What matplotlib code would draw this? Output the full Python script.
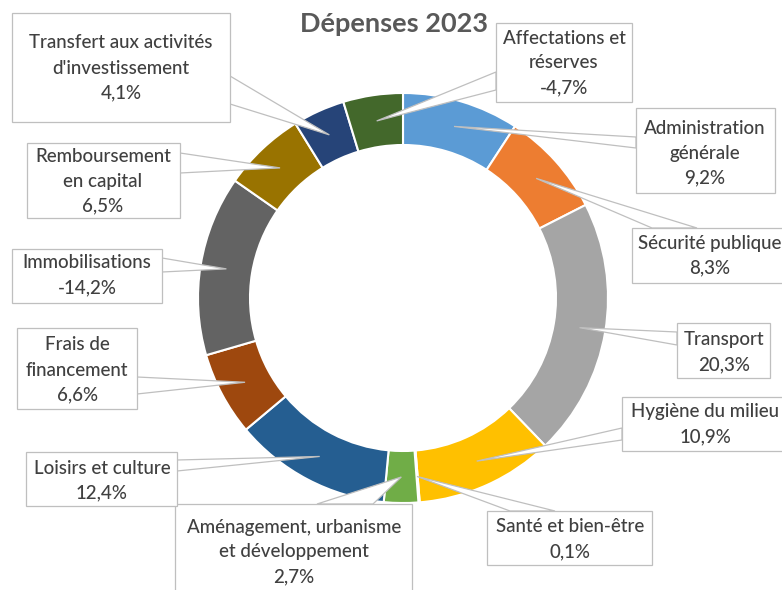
import numpy as np
import matplotlib
matplotlib.use("Agg")
import matplotlib.pyplot as plt
from matplotlib.patches import Rectangle, Polygon

plt.rcParams['font.family'] = ['Lato', 'DejaVu Sans']

# data, clockwise from 12 o'clock
categories = ["Administration générale", "Sécurité publique", "Transport",
              "Hygiène du milieu", "Santé et bien-être",
              "Aménagement, urbanisme et développement", "Loisirs et culture",
              "Frais de financement", "Immobilisations", "Remboursement en capital",
              "Transfert aux activités d'investissement", "Affectations et réserves"]
values = [9.2, 8.3, 20.3, 10.9, 0.1, 2.7, 12.4, 6.6, -14.2, 6.5, 4.1, -4.7]
name_lines = [["Administration", "générale"], ["Sécurité publique"], ["Transport"],
              ["Hygiène du milieu"], ["Santé et bien-être"],
              ["Aménagement, urbanisme", "et développement"], ["Loisirs et culture"],
              ["Frais de", "financement"], ["Immobilisations"], ["Remboursement", "en capital"],
              ["Transfert aux activités", "d'investissement"], ["Affectations et", "réserves"]]
colors = ["#5B9BD5", "#ED7D31", "#A5A5A5", "#FFC000", "#4472C4", "#70AD47",
          "#255E91", "#9E480E", "#636363", "#997300", "#264478", "#43682B"]

# layout in pixel coords (y down)
cx, cy, R, W = 403, 298, 205, 52
boxes = [(636, 108, 775, 193), (632, 228, 790, 283), (677, 323, 770, 378),
         (622, 397, 790, 451), (487, 511, 652, 565), (175, 504, 412, 600),
         (26, 452, 177, 506), (17, 328, 137, 409), (12, 249, 162, 303),
         (27, 143, 180, 218), (12, 13, 230, 122), (496, 23, 632, 102)]
text_x = [705, 710, 724, 705, 570, 294, 102, 77, 87, 103, 121, 564]
text_y = [128, 243, 340, 412, 527, 527, 468, 345, 263, 156, 43, 38]
bases = [((636, 137), (636, 148)), ((652, 228), (697, 228)), ((677, 332), (677, 345)),
         ((622, 428), (622, 440)), ((510, 511), (555, 511)), ((317, 504), (373, 504)),
         ((177, 460), (177, 471)), ((137, 377), (137, 394)), ((162, 258), (162, 272)),
         ((180, 153), (180, 173)), ((230, 76), (230, 104)), ((496, 72), (496, 90))]

fig = plt.figure(figsize=(7.82, 5.90), dpi=100)
ax = fig.add_axes([0, 0, 1, 1])

sizes = np.abs(values)
ax.pie(sizes, colors=colors, center=(cx, cy), radius=R, counterclock=True,
       startangle=270, wedgeprops=dict(width=W, edgecolor='white', linewidth=1.5))
ax.set_xlim(0, 782)
ax.set_ylim(590, 0)
ax.set_aspect('equal')
ax.axis('off')

# callouts
edge = '#BFBFBF'
cum = np.cumsum(sizes) - sizes / 2
mid = cum / sizes.sum() * 2 * np.pi
rm = R - W / 2
for i in range(len(values)):
    tx = cx + rm * np.sin(mid[i])
    ty = cy - rm * np.cos(mid[i])
    (b1, b2) = bases[i]
    ax.add_patch(Polygon([b1, (tx, ty), b2], closed=True, facecolor='white',
                         edgecolor=edge, linewidth=0.9, zorder=3))
    x0, y0, x1, y1 = boxes[i]
    ax.add_patch(Rectangle((x0, y0), x1 - x0, y1 - y0, facecolor='white',
                           edgecolor=edge, linewidth=0.9, zorder=4))
    lines = name_lines[i] + [f"{values[i]:.1f}%".replace('.', ',')]
    for k, s in enumerate(lines):
        ax.text(text_x[i], text_y[i] + 25 * k, s, ha='center', va='center',
                fontsize=13.5, fontweight='medium', color='#404040', zorder=5)

ax.text(394, 24, "Dépenses 2023", ha='center', va='center', fontsize=19.5,
        fontweight='bold', color='#595959')

fig.savefig("out.png", dpi=100)
